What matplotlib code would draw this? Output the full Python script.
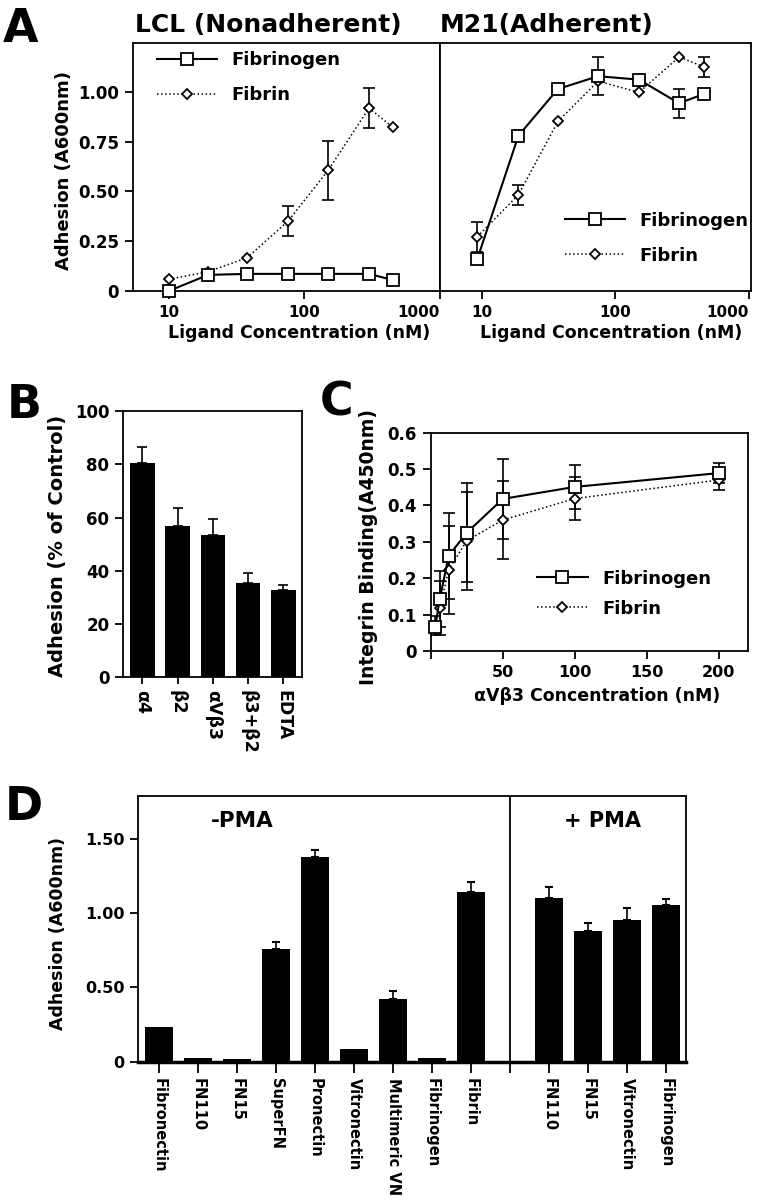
import matplotlib
matplotlib.use("Agg")
import matplotlib.pyplot as plt
import numpy as np
from matplotlib.ticker import FixedLocator, NullLocator

plt.rcParams['font.family'] = ['DejaVu Sans']
plt.rcParams['font.weight'] = 'bold'

# ---------------- data ----------------
# Panel A (left: LCL nonadherent, right: M21 adherent)
lcl_conc = [10, 19.5, 38, 76, 150, 300, 450]
lcl_fibrinogen = [0.0, 0.081, 0.086, 0.086, 0.086, 0.086, 0.055]
lcl_fibrinogen_err = [0, 0, 0, 0, 0, 0, 0]
lcl_fibrin = [0.059, 0.097, 0.168, 0.352, 0.607, 0.919, 0.822]
lcl_fibrin_err = [0, 0, 0, 0.076, 0.148, 0.10, 0]

m21_conc = [9.2, 18.7, 37, 74, 150, 300, 460]
m21_fibrinogen = [0.161, 0.780, 1.015, 1.079, 1.062, 0.943, 0.990]
m21_fibrinogen_err = [0, 0, 0, 0.095, 0, 0.073, 0]
m21_fibrin = [0.273, 0.483, 0.852, 1.054, 0.998, 1.176, 1.126]
m21_fibrin_err = [0.075, 0.05, 0, 0, 0, 0, 0.05]

a_ticks = [10, 100, 1000]
a_ticklabels = ['10', '100', '1000']

# Panel B
b_labels = ['α4', 'β2', 'αVβ3', 'β3+β2', 'EDTA']
b_values = [80.3, 56.7, 53.3, 35.4, 32.8]
b_err = [6.3, 6.9, 6.3, 3.8, 1.7]

# Panel C
c_conc = [3.125, 6.25, 12.5, 25, 50, 100, 200]
c_fibrinogen = [0.067, 0.142, 0.262, 0.325, 0.418, 0.451, 0.489]
c_fibrinogen_err = [0.01, 0.077, 0.118, 0.136, 0.11, 0.06, 0.028]
c_fibrin = [0.07, 0.118, 0.223, 0.303, 0.36, 0.419, 0.47]
c_fibrin_err = [0.025, 0.075, 0.12, 0.135, 0.107, 0.06, 0.028]

# Panel D
d_minus_labels = ['Fibronectin', 'FN110', 'FN15', 'SuperFN', 'Pronectin',
                  'Vitronectin', 'Multimeric VN', 'Fibrinogen', 'Fibrin']
d_minus_values = [0.231, 0.023, 0.02, 0.758, 1.377, 0.083, 0.42, 0.027, 1.142]
d_minus_err = [0, 0, 0, 0.045, 0.048, 0, 0.056, 0, 0.065]
d_plus_labels = ['FN110', 'FN15', 'Vitronectin', 'Fibrinogen']
d_plus_values = [1.10, 0.88, 0.951, 1.057]
d_plus_err = [0.078, 0.05, 0.08, 0.038]

# ---------------- figure ----------------
W, H = 762, 1200
fig = plt.figure(figsize=(W / 100, H / 100), dpi=100)


def ax_px(x0, y0, x1, y1):
    return fig.add_axes([x0 / W, 1 - y1 / H, (x1 - x0) / W, (y1 - y0) / H])


def ftext(x, y, s, **kw):
    fig.text(x / W, 1 - y / H, s, **kw)


def style(ax, lw=1.3):
    for sp in ax.spines.values():
        sp.set_linewidth(lw)
        sp.set_color('black')
    ax.tick_params(direction='out', width=1.3, length=6, pad=4, colors='black')


axL = ax_px(133, 43, 440, 291)
axR = ax_px(440, 43, 751, 291)
axB = ax_px(123.3, 411, 301.7, 677.3)
axC = ax_px(430.7, 432.7, 747.7, 651)
axD = ax_px(138.3, 795.7, 685.7, 1061.7)


def plot_pair(ax, x, fg, fge, fb, fbe, ms_sq=9, ms_d=5.5):
    x = np.asarray(x, float)
    fg = np.asarray(fg, float); fge = np.asarray(fge, float)
    fb = np.asarray(fb, float); fbe = np.asarray(fbe, float)
    m = fge > 0
    ax.errorbar(x[m], fg[m], yerr=fge[m], fmt='none', ecolor='black',
                elinewidth=1.2, capsize=4, capthick=1.2, zorder=2)
    m = fbe > 0
    ax.errorbar(x[m], fb[m], yerr=fbe[m], fmt='none', ecolor='black',
                elinewidth=1.2, capsize=4, capthick=1.2, zorder=2)
    ax.plot(x, fg, '-', color='black', lw=1.5, marker='s', ms=ms_sq,
            mfc='white', mec='black', mew=1.3, label='Fibrinogen', zorder=4,
            clip_on=False)
    ax.plot(x, fb, ':', color='black', lw=1.1, marker='D', ms=ms_d,
            mfc='white', mec='black', mew=1.3, label='Fibrin', zorder=3,
            clip_on=False)


# ---- Panel A ----
plot_pair(axL, lcl_conc, lcl_fibrinogen, lcl_fibrinogen_err, lcl_fibrin, lcl_fibrin_err)
plot_pair(axR, m21_conc, m21_fibrinogen, m21_fibrinogen_err, m21_fibrin, m21_fibrin_err)
for ax, xl in ((axL, (5.45, 1000)), (axR, (4.83, 1038))):
    ax.set_xscale('log')
    ax.set_xlim(*xl)
    ax.set_ylim(0, 1.246)
    style(ax)
    ax.xaxis.set_major_locator(FixedLocator(a_ticks))
    ax.xaxis.set_minor_locator(NullLocator())
    labs = ax.set_xticklabels(a_ticklabels, fontsize=11, fontweight='bold')
    labs[-1].set_horizontalalignment('right')
axL.set_yticks([0, 0.25, 0.5, 0.75, 1.0])
axL.set_yticklabels(['0', '0.25', '0.50', '0.75', '1.00'], fontsize=12, fontweight='bold')
axR.set_yticks([])
axR.tick_params(axis='y', left=False, labelleft=False)

leg_kw = dict(frameon=False, borderpad=0, borderaxespad=0, numpoints=1,
              prop={'weight': 'bold', 'size': 13}, handletextpad=0.8)
axL.legend(loc='upper left', bbox_to_anchor=(0.078, 0.966), handlelength=3.3,
           labelspacing=0.94, **leg_kw)
axR.legend(loc='upper left', bbox_to_anchor=(0.402, 0.32), handlelength=3.3,
           labelspacing=0.94, **leg_kw)

ftext(268, 32, 'LCL (Nonadherent)', ha='center', va='baseline', fontsize=18, fontweight='bold')
ftext(547, 32, 'M21(Adherent)', ha='center', va='baseline', fontsize=18, fontweight='bold')
ftext(64, 171, 'Adhesion (A600nm)', ha='center', va='center', rotation=90, fontsize=13, fontweight='bold')
ftext(299, 333, 'Ligand Concentration (nM)', ha='center', va='center', fontsize=12.5, fontweight='bold')
ftext(611, 333, 'Ligand Concentration (nM)', ha='center', va='center', fontsize=12.5, fontweight='bold')

# ---- Panel B ----
bx = np.arange(len(b_values))
axB.bar(bx, b_values, width=0.69, color='black', zorder=2)
axB.errorbar(bx, b_values, yerr=[np.zeros(len(b_err)), b_err], fmt='none',
             ecolor='black', elinewidth=1.2, capsize=3.5, capthick=1.2, zorder=1)
axB.set_xlim(-0.54, 4.52)
axB.set_ylim(0, 100)
style(axB)
axB.set_yticks(np.arange(0, 101, 20))
axB.set_yticklabels([str(v) for v in range(0, 101, 20)], fontsize=12, fontweight='bold')
axB.set_xticks(bx)
axB.set_xticklabels(b_labels, rotation=-90, fontsize=12.5, fontweight='bold', ha='center', va='top')
axB.tick_params(axis='x', length=5)
ftext(58, 546, 'Adhesion (% of Control)', ha='center', va='center', rotation=90, fontsize=14, fontweight='bold')

# ---- Panel C ----
plot_pair(axC, c_conc, c_fibrinogen, c_fibrinogen_err, c_fibrin, c_fibrin_err, ms_sq=8, ms_d=5)
axC.set_xlim(0, 220)
axC.set_ylim(0, 0.6)
style(axC)
axC.set_xticks([0, 50, 100, 150, 200])
axC.set_xticklabels(['', '50', '100', '150', '200'], fontsize=11.5, fontweight='bold')
axC.set_yticks(np.round(np.arange(0, 0.61, 0.1), 1))
axC.set_yticklabels(['0', '0.1', '0.2', '0.3', '0.4', '0.5', '0.6'], fontsize=12, fontweight='bold')
axC.legend(loc='upper left', bbox_to_anchor=(0.335, 0.373), handlelength=2.83,
           labelspacing=0.67, **leg_kw)
ftext(369, 547, 'Integrin Binding(A450nm)', ha='center', va='center', rotation=90, fontsize=13.5, fontweight='bold')
ftext(597, 696, 'αVβ3 Concentration (nM)', ha='center', va='center', fontsize=12.5, fontweight='bold')

# ---- Panel D ----
gap = len(d_minus_values)
dx_minus = np.arange(len(d_minus_values))
dx_plus = np.arange(len(d_plus_values)) + gap + 1
d_x = np.concatenate([dx_minus, dx_plus])
d_vals = np.concatenate([d_minus_values, d_plus_values])
d_errs = np.concatenate([d_minus_err, d_plus_err])
axD.bar(d_x, d_vals, width=0.72, color='black', zorder=2)
m = d_errs > 0
axD.errorbar(d_x[m], d_vals[m], yerr=[np.zeros(m.sum()), d_errs[m]], fmt='none',
             ecolor='black', elinewidth=1.2, capsize=3, capthick=1.5, zorder=1)
axD.axvline(gap, color='black', lw=1.3)
axD.set_xlim(-0.54, 13.5)
axD.set_ylim(0, 1.79)
style(axD)
axD.spines['bottom'].set_linewidth(2.5)
axD.set_xticks(list(dx_minus) + [gap] + list(dx_plus))
axD.set_xticklabels(d_minus_labels + [''] + d_plus_labels, rotation=-90, fontsize=10.5,
                    fontweight='bold', ha='center', va='top')
axD.tick_params(axis='x', length=8)
axD.set_yticks([0, 0.5, 1.0, 1.5])
axD.set_yticklabels(['0', '0.50', '1.00', '1.50'], fontsize=11.5, fontweight='bold')
ftext(242, 821, '-PMA', ha='center', va='center', fontsize=15.5, fontweight='bold')
ftext(602, 821, '+ PMA', ha='center', va='center', fontsize=15, fontweight='bold')
ftext(58, 934, 'Adhesion (A600nm)', ha='center', va='center', rotation=90, fontsize=12.5, fontweight='bold')

# ---- Panel letters ----
for letter, x, y in (('A', 3, 42), ('B', 7, 418), ('C', 320, 415), ('D', 5, 820)):
    ftext(x, y, letter, ha='left', va='baseline', fontsize=33, fontweight='bold')

fig.savefig('out.png', dpi=100)
